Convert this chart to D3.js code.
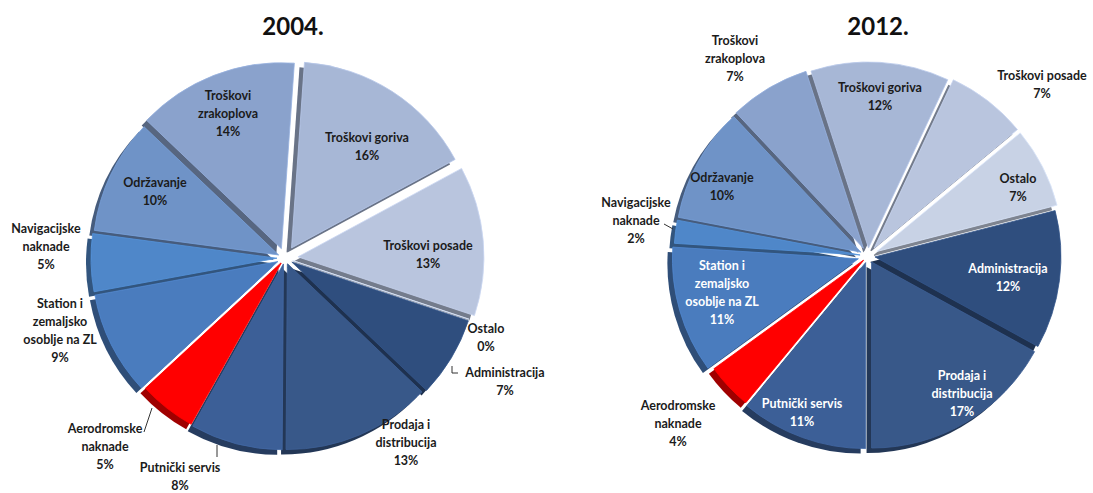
<!DOCTYPE html>
<html>
<head>
<meta charset="utf-8">
<script src="https://cdn.jsdelivr.net/npm/d3@7"></script>
<style>
  html, body { margin: 0; padding: 0; background: #ffffff; }
  svg { display: block; }
  text { font-family: Lato, "Open Sans", sans-serif; font-weight: bold; }
</style>
</head>
<body>
<svg id="chart" width="1093" height="493"></svg>
<script>
// ---- data ----
const categories = [
  "Troškovi goriva",
  "Troškovi posade",
  "Ostalo",
  "Administracija",
  "Prodaja i distribucija",
  "Putnički servis",
  "Aerodromske naknade",
  "Station i zemaljsko osoblje na ZL",
  "Navigacijske naknade",
  "Održavanje",
  "Troškovi zrakoplova"
];
const values2004 = [16, 13, 0, 7, 13, 8, 5, 9, 5, 10, 14];
const values2012 = [12, 7, 7, 12, 17, 11, 4, 11, 2, 10, 7];
const years = ["2004.", "2012."];
// label line breaks (text only)
const labelLines = [
  ["Troškovi goriva"],
  ["Troškovi posade"],
  ["Ostalo"],
  ["Administracija"],
  ["Prodaja i", "distribucija"],
  ["Putnički servis"],
  ["Aerodromske", "naknade"],
  ["Station i", "zemaljsko", "osoblje na ZL"],
  ["Navigacijske", "naknade"],
  ["Održavanje"],
  ["Troškovi", "zrakoplova"]
];

// ---- styles ----
const colors = ["#a7b7d6", "#b9c5de", "#c8d2e5", "#2f4e7e", "#385889", "#3c5f97",
                "#ff0000", "#4a7cbe", "#4f87c9", "#6f93c7", "#8aa2cc"];

// ---- layout ----
const charts = [
  {
    values: values2004, year: years[0], cx: 285, cy: 258, r: 186, start: 4,
    titleX: 293, titleY: 25,
    explode: [12, 13, 8, 8, 6, 6, 5, 8, 8, 7, 10],
    labels: [[-57,-163],[143,-13],[201,70],[220,114],[121,166],[-105,209],[-180,170],[-225,45],[-239,-30],[-130,-76],[-57,-163]],
    white: [],
    leaders: [[[452,366],[452,373],[458,373]], [[152,408],[144,432]], [[217,445],[217,457]]]
  },
  {
    values: values2012, year: years[1], cx: 868, cy: 256, r: 186, start: -18,
    titleX: 878, titleY: 25,
    explode: [8, 10, 10, 7, 7, 7, 5, 10, 8, 8, 9],
    labels: [[12,-169],[174,-181],[150,-78],[140,12],[94,119],[-66,147],[-190,149],[-146,9],[-232,-54],[-146,-79],[-133,-216]],
    white: [3, 4, 5, 7],
    leaders: [[[664,224],[673,229]]]
  }
];
// goriva label for 2004
charts[0].labels[0] = [82, -121];

const svg = d3.select("#chart");
const lineH = 18.2;

charts.forEach(ch => {
  const sa = ch.start * Math.PI / 180;
  const pie = d3.pie().sort(null).value(d => d).startAngle(sa).endAngle(sa + 2 * Math.PI);
  const arcs = pie(ch.values);
  const arc = d3.arc().innerRadius(0).outerRadius(ch.r);
  const g = svg.append("g").attr("transform", `translate(${ch.cx},${ch.cy})`);

  const off = (d, i) => {
    const a = (d.startAngle + d.endAngle) / 2;
    const e = ch.explode[i];
    return [Math.sin(a) * e, -Math.cos(a) * e];
  };

  // 3D side / shadow
  g.selectAll("path.side").data(arcs).join("path")
    .attr("class", "side")
    .attr("d", arc)
    .attr("transform", (d, i) => { const o = off(d, i); return `translate(${o[0] - 5},${o[1] + 5})`; })
    .attr("fill", (d, i) => d3.color(colors[i]).darker(1.3));

  // top faces
  g.selectAll("path.top").data(arcs).join("path")
    .attr("class", "top")
    .attr("d", arc)
    .attr("transform", (d, i) => { const o = off(d, i); return `translate(${o[0]},${o[1]})`; })
    .attr("fill", (d, i) => colors[i])
    .attr("stroke", (d, i) => d3.color(colors[i]).brighter(0.25))
    .attr("stroke-width", 0.8);

  // white hub
  g.append("circle").attr("r", 6).attr("fill", "#ffffff");

  // title
  svg.append("text").attr("x", ch.titleX).attr("y", ch.titleY)
    .attr("text-anchor", "middle").attr("dominant-baseline", "central")
    .attr("font-size", 24).attr("fill", "#111").text(ch.year);

  // labels
  categories.forEach((c, i) => {
    const lines = labelLines[i].concat([ch.values[i] + "%"]);
    const t = g.append("text")
      .attr("text-anchor", "middle")
      .attr("font-size", 12.5)
      .attr("fill", ch.white.includes(i) ? "#ffffff" : "#1b1b1b");
    lines.forEach((l, k) => {
      t.append("tspan").attr("x", ch.labels[i][0])
        .attr("y", ch.labels[i][1] + k * lineH + 4.5).text(l);
    });
  });

  // leader lines
  ch.leaders.forEach(pts => {
    svg.append("path").attr("d", d3.line()(pts))
      .attr("fill", "none").attr("stroke", "#333").attr("stroke-width", 1);
  });
});
</script>
</body>
</html>
